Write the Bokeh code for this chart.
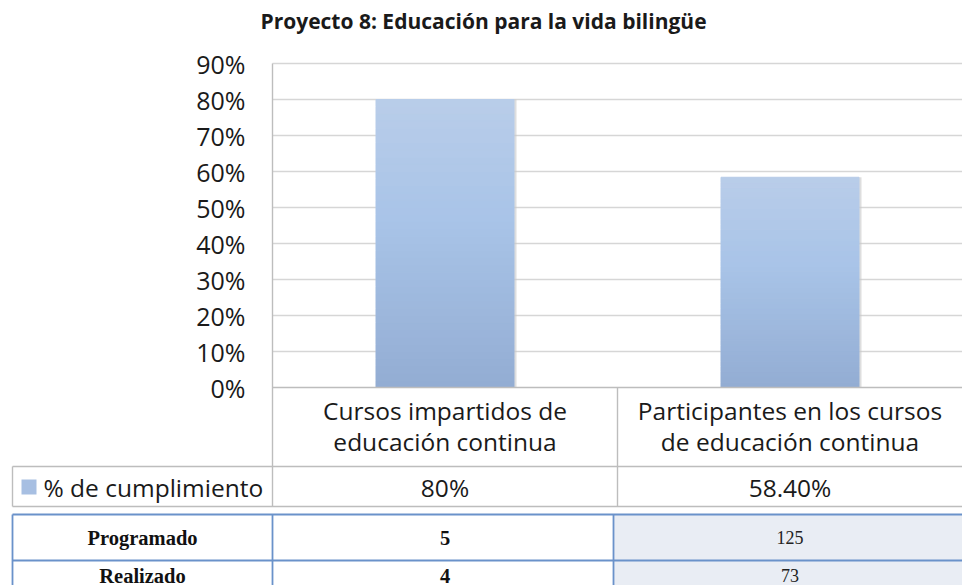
from bokeh.plotting import figure
from bokeh.models import Range1d
from bokeh.core.properties import value
from bokeh.embed import file_html
from bokeh.resources import INLINE

# ---------------- data ----------------
title_text = "Proyecto 8: Educación para la vida bilingüe"
categories = [["Cursos impartidos de", "educación continua"],
              ["Participantes en los cursos", "de educación continua"]]
cumplimiento = [80.0, 58.4]
cumplimiento_labels = ["80%", "58.40%"]
series_name = "% de cumplimiento"
row_names = ["Programado", "Realizado"]
programado = [5, 125]
realizado = [4, 73]
tick_values = [0, 10, 20, 30, 40, 50, 60, 70, 80, 90]
tick_labels = ["0%", "10%", "20%", "30%", "40%", "50%", "60%", "70%", "80%", "90%"]

# ---------------- layout helpers (reference pixel -> data) ----------------
PX_LEFT, CAT_W = 272.0, 345.0      # plot-area left edge and width of a category
PX_ZERO, PX_PER = 387.0, 3.6       # y pixel of 0% and pixels per percent


def X(px):
    return (px - PX_LEFT) / CAT_W


def Y(py):
    return (PX_ZERO - py) / PX_PER


W, H = 962, 585
p = figure(width=W, height=H, output_backend="svg", toolbar_location=None,
           x_range=Range1d(X(0), X(W)), y_range=Range1d(Y(H), Y(0)),
           x_axis_type=None, y_axis_type=None, min_border=0)
p.grid.visible = False
p.outline_line_color = None
p.background_fill_color = "white"

SANS = value("Open Sans")
SERIF = value("Liberation Serif")
RIGHT = X(W)
BOTTOM = Y(H)

# ---------------- second (blue) table background ----------------
p.quad(left=[X(613)], right=[RIGHT], top=[Y(514)], bottom=[BOTTOM],
       fill_color="#E9EDF4", line_color=None)

# ---------------- gridlines ----------------
grid_vals = [v for v in tick_values if v > 0]
p.segment(x0=[X(PX_LEFT)] * len(grid_vals), x1=[RIGHT] * len(grid_vals),
          y0=grid_vals, y1=grid_vals, line_color="#D6D6D6", line_width=1.6)

# ---------------- bars with vertical gradient (+ soft shadow) ----------------
top_c, mid_c, bot_c = (0xB9, 0xCD, 0xE9), (0xA9, 0xC4, 0xE8), (0x93, 0xAD, 0xD3)


def blend(a, b, t):
    return "#%02x%02x%02x" % tuple(int(round(a[i] + (b[i] - a[i]) * t)) for i in range(3))


N = 40
centers = [i + 0.5 for i in range(len(categories))]
bw = 0.40
sh = 2.5 / CAT_W
p.quad(left=[c - bw / 2 + sh for c in centers], right=[c + bw / 2 + sh for c in centers],
       bottom=[0] * len(centers), top=cumplimiento, fill_color="#C8C8C8", fill_alpha=0.6,
       line_color=None)
for ci, v in zip(centers, cumplimiento):
    lefts, rights, bots, tops, cols = [], [], [], [], []
    for k in range(N):
        f0, f1 = k / N, (k + 1) / N
        fm = 1 - (f0 + f1) / 2  # 0 at top, 1 at bottom
        if fm < 0.4:
            c = blend(top_c, mid_c, fm / 0.4)
        else:
            c = blend(mid_c, bot_c, (fm - 0.4) / 0.6)
        lefts.append(ci - bw / 2)
        rights.append(ci + bw / 2)
        bots.append(v * f0)
        tops.append(v * f1)
        cols.append(c)
    p.quad(left=lefts, right=rights, bottom=bots, top=tops, fill_color=cols,
           line_color=cols, line_width=1)

# ---------------- plot-area / first table lines ----------------
GREY = "#BDBDBD"
p.segment(x0=[X(PX_LEFT)], x1=[RIGHT], y0=[0], y1=[0], line_color=GREY, line_width=1.4)
p.segment(x0=[X(PX_LEFT)], x1=[X(PX_LEFT)], y0=[tick_values[-1]], y1=[Y(506)],
          line_color=GREY, line_width=1.4)
p.segment(x0=[1.0], x1=[1.0], y0=[0], y1=[Y(506)], line_color=GREY, line_width=1.4)
p.segment(x0=[X(12), X(12)], x1=[RIGHT, RIGHT], y0=[Y(466), Y(506)], y1=[Y(466), Y(506)],
          line_color=GREY, line_width=1.4)
p.segment(x0=[X(12)], x1=[X(12)], y0=[Y(466)], y1=[Y(506)], line_color=GREY, line_width=1.4)

# ---------------- second table lines ----------------
BLUE = "#6A92CA"
p.segment(x0=[X(12), X(12)], x1=[RIGHT, RIGHT], y0=[Y(514), Y(560)], y1=[Y(514), Y(560)],
          line_color=BLUE, line_width=1.8)
p.segment(x0=[X(12), X(PX_LEFT), X(613)], x1=[X(12), X(PX_LEFT), X(613)],
          y0=[Y(514)] * 3, y1=[BOTTOM] * 3, line_color=BLUE, line_width=1.8)

# ---------------- texts ----------------
p.text(x=[X(483)], y=[Y(20)], text=[title_text], text_font=SANS, text_font_style="bold",
       text_font_size="21px", text_align="center", text_baseline="middle", text_color="#1a1a1a")

p.text(x=[X(245)] * len(tick_values), y=tick_values, text=tick_labels, text_font=SANS,
       text_font_size="25px", text_align="right", text_baseline="middle", text_color="#1a1a1a")

p.text(x=centers, y=[Y(410)] * 2, text=[c[0] for c in categories], text_font=SANS,
       text_font_size="24.5px", text_align="center", text_baseline="middle", text_color="#1a1a1a")
p.text(x=centers, y=[Y(441)] * 2, text=[c[1] for c in categories], text_font=SANS,
       text_font_size="24.5px", text_align="center", text_baseline="middle", text_color="#1a1a1a")

p.scatter(x=[X(28.5)], y=[Y(486.5)], marker="square", size=15, fill_color="#A7BFE2",
          line_color=None)
p.text(x=[X(43)], y=[Y(487)], text=[series_name], text_font=SANS, text_font_size="24.5px",
       text_align="left", text_baseline="middle", text_color="#1a1a1a")
p.text(x=centers, y=[Y(487)] * 2, text=cumplimiento_labels, text_font=SANS,
       text_font_size="24.5px", text_align="center", text_baseline="middle", text_color="#1a1a1a")

row_y = [Y(537), Y(575)]
p.text(x=[X(142)] * 2, y=row_y, text=row_names, text_font=SERIF, text_font_style="bold",
       text_font_size="20.5px", text_align="center", text_baseline="middle", text_color="#111111")
p.text(x=[centers[0]] * 2, y=row_y, text=[str(programado[0]), str(realizado[0])], text_font=SERIF,
       text_font_style="bold", text_font_size="20.5px", text_align="center", text_baseline="middle",
       text_color="#111111")
p.text(x=[centers[1]] * 2, y=row_y, text=[str(programado[1]), str(realizado[1])], text_font=SERIF,
       text_font_size="18px", text_align="center", text_baseline="middle", text_color="#222222")

open("out.html", "w").write(file_html(p, INLINE))
